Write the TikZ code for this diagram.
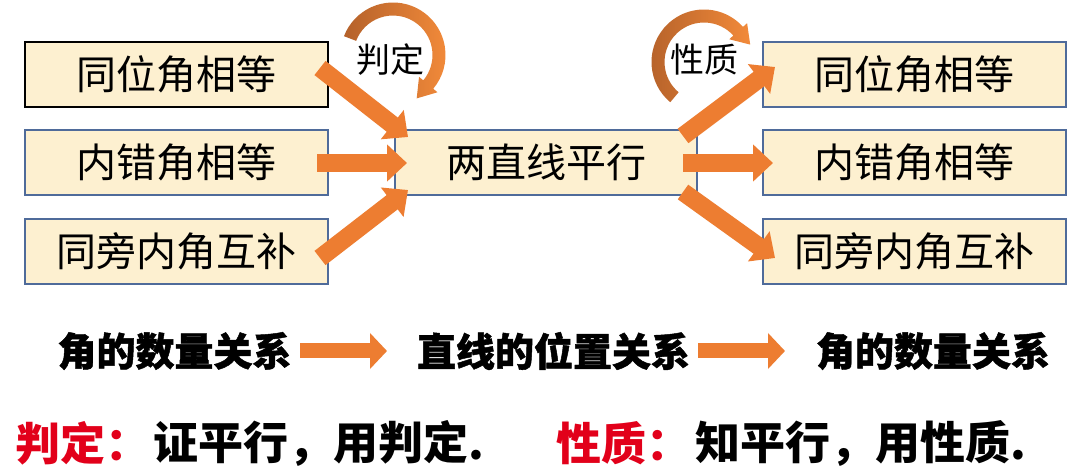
\documentclass[tikz,border=0pt]{standalone}
\usepackage{fontspec}
\setmainfont{Noto Sans CJK SC}
\newfontfamily\heavyfont[BoldFeatures={FakeBold=1.2}]{Noto Sans CJK SC}
\usetikzlibrary{arrows.meta,calc}
\definecolor{boxfill}{HTML}{FDF0D0}
\definecolor{boxline}{HTML}{4F6B9A}
\definecolor{arr}{HTML}{ED7D31}
\definecolor{arrdark}{HTML}{B4612A}
\definecolor{arrlight}{HTML}{F28A3A}
\definecolor{txtred}{HTML}{E2001A}
\begin{document}
\begin{tikzpicture}[x=1pt,y=-1pt,
  box/.style={draw=boxline, line width=1.5pt, fill=boxfill, minimum width=303pt,
    minimum height=65pt, inner sep=0pt, font=\fontsize{40}{48}\selectfont},
  blockarrow/.style={draw=arr, line width=18pt, -{Triangle[length=20pt,width=36pt]}},
  smallarrow/.style={draw=arr, line width=15pt, -{Triangle[length=17pt,width=35pt]}},
  lbl/.style={font=\fontsize{34}{40}\selectfont, inner sep=0pt},
  rowtext/.style={font=\heavyfont\bfseries\fontsize{39}{46}\selectfont, inner sep=0pt},
  bottext/.style={font=\bfseries\fontsize{45}{52}\selectfont, inner sep=0pt, anchor=west}]
\useasboundingbox (0,0) rectangle (1080,473);
\fill[white] (0,0) rectangle (1080,473);

% boxes
\node[box, draw=black] (b1) at (176.5,74.5) {同位角相等};
\node[box] (b2) at (176.5,162.5) {内错角相等};
\node[box] (b3) at (176.5,251.5) {同旁内角互补};
\node[box, minimum width=302pt] (c) at (546,162.5) {两直线平行};
\node[box] (r1) at (914.5,74.5) {同位角相等};
\node[box] (r2) at (914.5,162.5) {内错角相等};
\node[box] (r3) at (914.5,251.5) {同旁内角互补};

% arrow end points
\coordinate (l1s) at (320,68);   \coordinate (l1e) at (408,137);
\coordinate (l2s) at (317,163);  \coordinate (l2e) at (407,163);
\coordinate (l3s) at (320,258);  \coordinate (l3e) at (408,190);
\coordinate (r1s) at (683,136);  \coordinate (r1e) at (775,67);
\coordinate (r2s) at (683,163);  \coordinate (r2e) at (773,163);
\coordinate (r3s) at (683,192);  \coordinate (r3e) at (775,258);

\draw[blockarrow] (l1s) -- (l1e);
\draw[blockarrow] (l2s) -- (l2e);
\draw[blockarrow] (l3s) -- (l3e);
\draw[blockarrow] (r1s) -- (r1e);
\draw[blockarrow] (r2s) -- (r2e);
\draw[blockarrow] (r3s) -- (r3e);

% curved arrow 判定
\coordinate (jc) at (393,55);
\shade[left color=arrdark, right color=arrlight]
  ($(jc)+(201:52.5)$) arc[start angle=201, end angle=400, radius=52.5]
  -- ($(jc)+(400:58)$) -- (416.7,98.4) -- ($(jc)+(400:34)$)
  -- ($(jc)+(400:39.5)$) arc[start angle=400, end angle=201, radius=39.5] -- cycle;
\node[lbl] (jd) at (390,60) {判定};

% curved arrow 性质
\coordinate (xc) at (704,62);
\shade[left color=arrdark, right color=arrlight]
  ($(xc)+(130:52.5)$) arc[start angle=130, end angle=318, radius=52.5]
  -- ($(xc)+(318:58)$) -- (750.2,44.6) -- ($(xc)+(318:34)$)
  -- ($(xc)+(318:39.5)$) arc[start angle=318, end angle=130, radius=39.5] -- cycle;
\node[lbl] (xz) at (704,60) {性质};

% middle row
\node[rowtext] (t1) at (174.5,351) {角的数量关系};
\node[rowtext] (t2) at (553.5,351) {直线的位置关系};
\node[rowtext] (t3) at (933,351) {角的数量关系};
\coordinate (m1s) at (300,351); \coordinate (m1e) at (387,351);
\coordinate (m2s) at (698,351); \coordinate (m2e) at (785,351);
\draw[smallarrow] (m1s) -- (m1e);
\draw[smallarrow] (m2s) -- (m2e);

% bottom row
\node[bottext, text=txtred] (p1) at (15,443) {判定：};
\node[bottext] (p2) at (153,443) {证平行，用判定.};
\node[bottext, text=txtred] (p3) at (556,443) {性质：};
\node[bottext] (p4) at (695,443) {知平行，用性质.};
\end{tikzpicture}
\end{document}
